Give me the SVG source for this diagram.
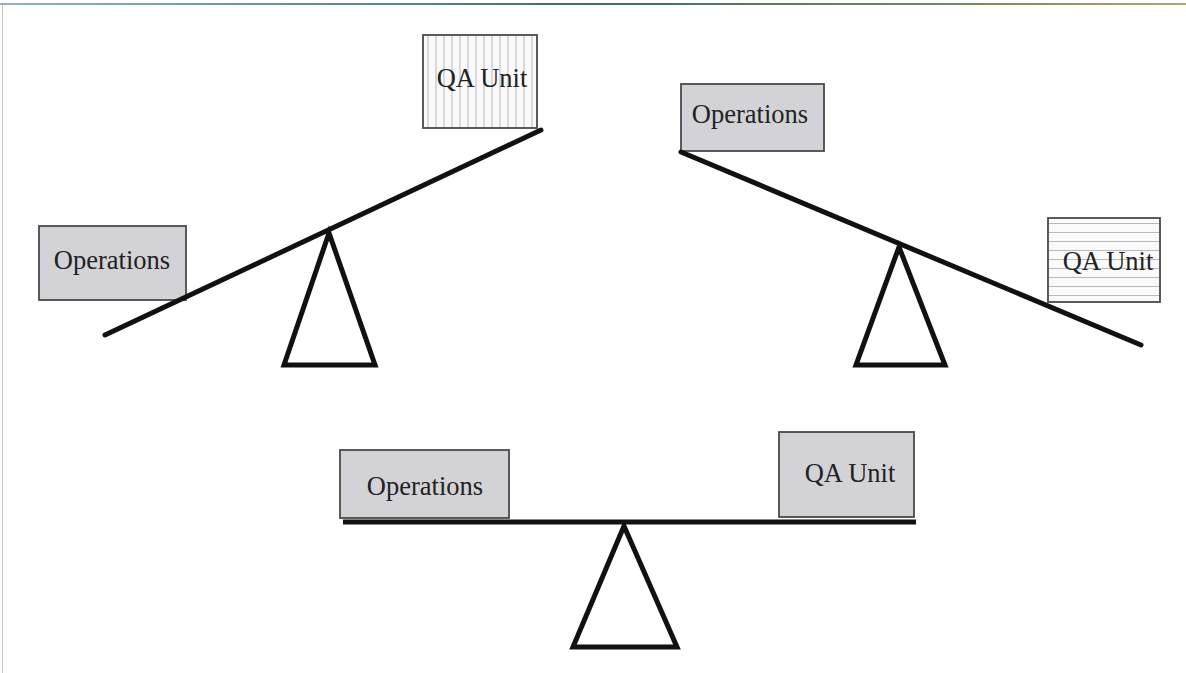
<svg xmlns="http://www.w3.org/2000/svg" width="1186" height="673" viewBox="0 0 1186 673">
<defs>
<linearGradient id="topg" gradientUnits="userSpaceOnUse" x1="0" y1="0" x2="1186" y2="0">
<stop offset="0" stop-color="#8fb0d4"/>
<stop offset="0.5" stop-color="#3f6f63"/>
<stop offset="0.8" stop-color="#6f8a5a"/>
<stop offset="1" stop-color="#c0a068"/>
</linearGradient>
<pattern id="vstripe" width="8" height="10" patternUnits="userSpaceOnUse" x="424" y="0">
<rect width="8" height="10" fill="#fafafa"/>
<line x1="4" y1="0" x2="4" y2="10" stroke="#b8b8c0" stroke-width="1"/>
</pattern>
<pattern id="hstripe" width="10" height="9" patternUnits="userSpaceOnUse" x="0" y="219">
<rect width="10" height="9" fill="#fafafa"/>
<line x1="0" y1="4.5" x2="10" y2="4.5" stroke="#b8b8c0" stroke-width="1"/>
</pattern>
</defs>
<style>
.box{fill:#d3d2d6;stroke:#4a4a4a;stroke-width:1.8}
.hbox{stroke:#4a4a4a;stroke-width:1.8}
.lbl{font-family:"Liberation Serif","Times New Roman",serif;font-size:26.5px;fill:#222;text-anchor:middle}
.beam{stroke:#111;stroke-width:5;stroke-linecap:round;fill:none}
.tri{fill:#fff;stroke:#111;stroke-width:5;stroke-linejoin:miter}
</style>
<rect width="1186" height="673" fill="#fff"/>
<rect x="0" y="3" width="1186" height="2" fill="url(#topg)"/>
<line x1="2.5" y1="5" x2="2.5" y2="673" stroke="#c8c8c8" stroke-width="1"/>

<g id="seesaw-left">
<g id="fulcrum-left"><polygon class="tri" points="329,233 284,365 375,365"/></g>
<g id="left-operations"><rect class="box" x="39" y="226" width="147" height="74"/><text class="lbl" x="112" y="269">Operations</text></g>
<g id="left-qa-unit"><rect class="hbox" fill="url(#vstripe)" x="423" y="35" width="114" height="93"/><text class="lbl" x="482" y="87">QA Unit</text></g>
</g>

<g id="seesaw-right">
<g id="fulcrum-right"><polygon class="tri" points="899,247 856,365 945,365"/></g>
<g id="right-operations"><rect class="box" x="681" y="84" width="143" height="67"/><text class="lbl" x="750" y="123">Operations</text></g>
<g id="right-qa-unit"><rect class="hbox" fill="url(#hstripe)" x="1048" y="218" width="112" height="84"/><text class="lbl" x="1108" y="270">QA Unit</text></g>
</g>

<g id="seesaw-bottom">
<g id="fulcrum-bottom"><polygon class="tri" points="624,526 573,647 677,647"/></g>
<g id="bottom-operations"><rect class="box" x="340" y="450" width="169" height="68"/><text class="lbl" x="425" y="495">Operations</text></g>
<g id="bottom-qa-unit"><rect class="box" x="779" y="432" width="135" height="85"/><text class="lbl" x="850" y="482">QA Unit</text></g>
</g>

<g id="connectors">
<line class="beam" x1="105" y1="335" x2="541" y2="130"/>
<line class="beam" x1="681" y1="152" x2="1141" y2="345"/>
<line class="beam" x1="343" y1="522" x2="916" y2="522" style="stroke-linecap:butt"/>
</g>
</svg>
